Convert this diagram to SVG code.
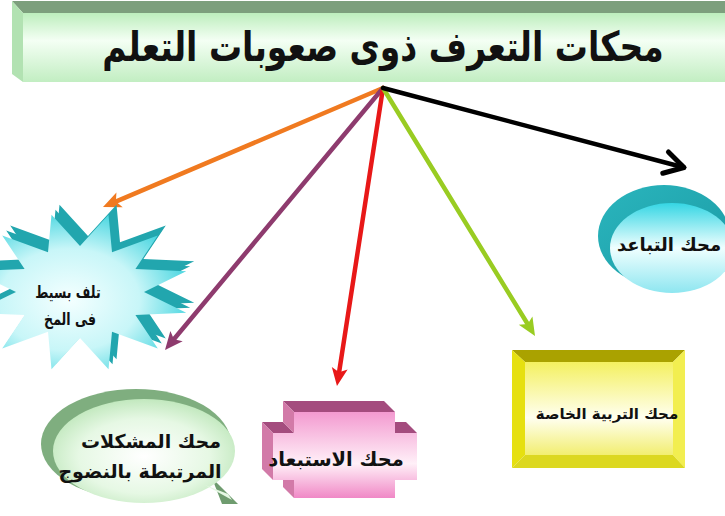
<svg xmlns="http://www.w3.org/2000/svg" width="725" height="516" viewBox="0 0 725 516">
<defs>
<style>
.t{font-family:"DejaVu Sans","Noto Sans",sans-serif;font-weight:bold;fill:#111;text-anchor:middle}
.tc{font-family:"DejaVu Sans Condensed","DejaVu Sans",sans-serif;font-weight:bold;fill:#111;text-anchor:middle}
.ln{fill:none;stroke-width:4.5;stroke-linecap:round}
</style>
<linearGradient id="gBan" x1="0" y1="0" x2="0" y2="1">
<stop offset="0" stop-color="#bdeebd"/><stop offset="0.4" stop-color="#f4fff4"/><stop offset="1" stop-color="#c2eec2"/>
</linearGradient>
<radialGradient id="gStar" cx="0.45" cy="0.55" r="0.6">
<stop offset="0" stop-color="#f4ffff"/><stop offset="0.55" stop-color="#c8f6f8"/><stop offset="1" stop-color="#3fd3de"/>
</radialGradient>
<linearGradient id="gCirc" x1="0" y1="0" x2="0" y2="1">
<stop offset="0" stop-color="#35d6e4"/><stop offset="0.5" stop-color="#f0ffff"/><stop offset="1" stop-color="#8ee6f0"/>
</linearGradient>
<linearGradient id="gCircB" x1="0" y1="0" x2="1" y2="1">
<stop offset="0" stop-color="#2ab5bd"/><stop offset="1" stop-color="#1b9aa4"/>
</linearGradient>
<linearGradient id="gYel" x1="0" y1="0" x2="0" y2="1">
<stop offset="0" stop-color="#f4f060"/><stop offset="0.6" stop-color="#fffff0"/><stop offset="1" stop-color="#f2ee70"/>
</linearGradient>
<linearGradient id="gPink" x1="0" y1="0" x2="0" y2="1">
<stop offset="0" stop-color="#f39ad0"/><stop offset="0.6" stop-color="#fff0f8"/><stop offset="1" stop-color="#f088c6"/>
</linearGradient>
<radialGradient id="gBub" cx="0.5" cy="0.55" r="0.6">
<stop offset="0" stop-color="#ffffff"/><stop offset="0.6" stop-color="#e6f8e4"/><stop offset="1" stop-color="#b8e4b4"/>
</radialGradient>
<marker id="mO" markerUnits="userSpaceOnUse" viewBox="-10 -10 22 20" markerWidth="22" markerHeight="20" refX="0" refY="0" orient="auto"><path d="M-8,-8 L10,0 L-8,8 L-4,0 z" fill="#f07a20"/></marker>
<marker id="mP" markerUnits="userSpaceOnUse" viewBox="-10 -10 22 20" markerWidth="22" markerHeight="20" refX="0" refY="0" orient="auto"><path d="M-8,-8 L10,0 L-8,8 L-4,0 z" fill="#8e3b6e"/></marker>
<marker id="mR" markerUnits="userSpaceOnUse" viewBox="-10 -10 22 20" markerWidth="22" markerHeight="20" refX="0" refY="0" orient="auto"><path d="M-8,-8 L10,0 L-8,8 L-4,0 z" fill="#e81818"/></marker>
<marker id="mG" markerUnits="userSpaceOnUse" viewBox="-10 -10 22 20" markerWidth="22" markerHeight="20" refX="0" refY="0" orient="auto"><path d="M-8,-8 L10,0 L-8,8 L-4,0 z" fill="#99cc22"/></marker>
<marker id="mK" markerUnits="userSpaceOnUse" viewBox="-24 -14 28 28" markerWidth="28" markerHeight="28" refX="0" refY="0" orient="auto"><path d="M-19,-11 L0,0 L-19,11" fill="none" stroke="#000" stroke-width="5" stroke-linecap="round" stroke-linejoin="round"/></marker>
</defs>
<rect width="725" height="516" fill="#ffffff"/>

<g id="title">
<polygon points="12,1 725,1 725,13 23,13" fill="#7d9f7d"/>
<polygon points="12,1 23,13 23,82 12,74" fill="#b2e2b2"/>
<rect x="23" y="13" width="702" height="69" fill="url(#gBan)"/>
<text class="t" transform="translate(383,61) scale(1,1.25)" x="0" y="0" font-size="33">محكات التعرف ذوى صعوبات التعلم</text>
</g>

<g id="connectors">
<line class="ln" x1="383" y1="88" x2="112.2" y2="203.1" stroke="#f07a20" marker-end="url(#mO)"/>
<line class="ln" x1="383" y1="88" x2="171.4" y2="342.3" stroke="#8e3b6e" marker-end="url(#mP)"/>
<line class="ln" x1="383" y1="88" x2="338.5" y2="376.1" stroke="#e81818" marker-end="url(#mR)"/>
<line class="ln" x1="383" y1="88" x2="529.8" y2="327.5" stroke="#99cc22" marker-end="url(#mG)"/>
<line class="ln" x1="383" y1="88" x2="684" y2="167.5" stroke="#000" stroke-width="5" marker-end="url(#mK)"/>
</g>

<g id="node-brain">
<g fill="#22a6ae">
<polygon transform="translate(4,-5)" points="108.5,214.7 112,252.2 157.8,235.4 135.4,269 186.2,271.3 144,292 186.2,312.7 135.4,315 157.8,348.6 112,331.8 108.5,369.3 80,338 51.5,369.3 48,331.8 2.2,348.6 24.6,315 -26.2,312.7 16,292 -26.2,271.3 24.6,269 2.2,235.4 48,252.2 51.5,214.7 80,246"/>
<polygon transform="translate(8,-10)" points="108.5,214.7 112,252.2 157.8,235.4 135.4,269 186.2,271.3 144,292 186.2,312.7 135.4,315 157.8,348.6 112,331.8 108.5,369.3 80,338 51.5,369.3 48,331.8 2.2,348.6 24.6,315 -26.2,312.7 16,292 -26.2,271.3 24.6,269 2.2,235.4 48,252.2 51.5,214.7 80,246"/>
</g>
<polygon fill="url(#gStar)" points="108.5,214.7 112,252.2 157.8,235.4 135.4,269 186.2,271.3 144,292 186.2,312.7 135.4,315 157.8,348.6 112,331.8 108.5,369.3 80,338 51.5,369.3 48,331.8 2.2,348.6 24.6,315 -26.2,312.7 16,292 -26.2,271.3 24.6,269 2.2,235.4 48,252.2 51.5,214.7 80,246"/>
<text class="tc" transform="translate(68,298) scale(1,1.2)" font-size="14">تلف بسيط</text>
<text class="tc" transform="translate(70,325) scale(1,1.2)" font-size="14">فى المخ</text>
</g>

<g id="node-distance">
<ellipse cx="664" cy="236" rx="66" ry="51" fill="url(#gCircB)"/>
<ellipse cx="672" cy="248" rx="62" ry="45" fill="url(#gCirc)"/>
<text class="t" x="669" y="251" font-size="18">محك التباعد</text>
</g>

<g id="node-special">
<polygon points="512,350 685,350 673,362 525,362" fill="#aaa200"/>
<polygon points="512,350 525,362 525,455 512,468" fill="#e6e010"/>
<polygon points="685,350 685,468 673,455 673,362" fill="#f2ee50"/>
<polygon points="512,468 685,468 673,455 525,455" fill="#dcd820"/>
<rect x="525" y="362" width="148" height="93" fill="url(#gYel)"/>
<text class="t" x="607" y="419" font-size="15">محك التربية الخاصة</text>
</g>

<g id="node-exclusion">
<polygon points="294,412 395,412 384,401 283,401" fill="#a44c7e"/>
<polygon points="395,433 417,433 406,422 384,422" fill="#a44c7e"/>
<polygon points="273,433 294,433 283,422 262,422" fill="#a44c7e"/>
<polygon points="294,433 294,412 283,401 283,422" fill="#d27aa8"/>
<polygon points="273,480 273,433 262,422 262,469" fill="#d27aa8"/>
<polygon points="294,498 294,480 283,469 283,487" fill="#d27aa8"/>
<polygon points="294,412 395,412 395,433 417,433 417,480 395,480 395,498 294,498 294,480 273,480 273,433 294,433" fill="url(#gPink)"/>
<text class="t" x="336" y="466" font-size="19.5">محك الاستبعاد</text>
</g>

<g id="node-maturity">
<ellipse cx="136" cy="444" rx="95" ry="55" fill="#7fae7f"/>
<path d="M212,478 L238,504 L222,504 Z" fill="#6f9c6f"/>
<ellipse cx="144" cy="451" rx="91" ry="52" fill="url(#gBub)"/>
<path d="M205,485 L232,500 L228,494 Z" fill="#e6f8e4"/>
<text class="t" x="151" y="448" font-size="19">محك المشكلات</text>
<text class="t" x="140" y="478" font-size="19">المرتبطة بالنضوج</text>
</g>
</svg>
